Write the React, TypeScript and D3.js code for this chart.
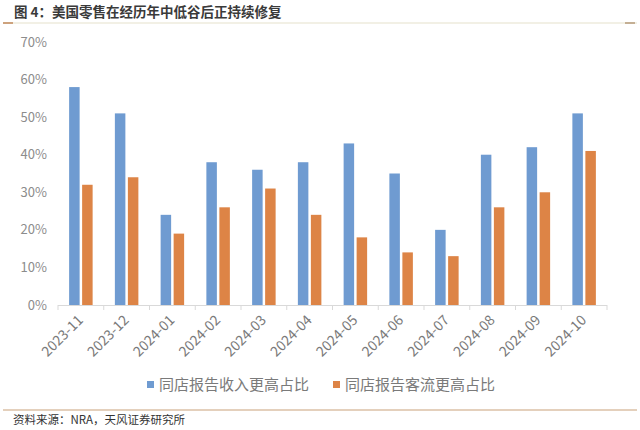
import React from "react";
import * as d3 from "d3";

const categories = ["2023-11","2023-12","2024-01","2024-02","2024-03","2024-04","2024-05","2024-06","2024-07","2024-08","2024-09","2024-10"];
const revenueShare = [58, 51, 24, 38, 36, 38, 43, 35, 20, 40, 42, 51];
const trafficShare = [32, 34, 19, 26, 31, 24, 18, 14, 13, 26, 30, 41];
const seriesNames = ["同店报告收入更高占比", "同店报告客流更高占比"];
const yTicks = [0, 10, 20, 30, 40, 50, 60, 70];
const title = "图 4：美国零售在经历年中低谷后正持续修复";
const source = "资料来源：NRA，天风证券研究所";

const W = 640, H = 430;
const left = 58, right = 607, top = 42, bottom = 305;
const colors = ["#6f9bd1", "#dd8446"];
const font = "'Noto Sans CJK SC', 'Liberation Sans', sans-serif";

export default function App() {
  const x = d3.scaleBand().domain(categories).range([left, right]).padding(0);
  const y = d3.scaleLinear().domain([0, 70]).range([bottom, top]);
  const bw = x.bandwidth();
  const barW = 10.5, gap = 2.5;
  const series = [revenueShare, trafficShare];
  return (
    <svg width={W} height={H} style={{ position: "absolute", left: 0, top: 0, background: "#fff" }} fontFamily={font}>
      <text x={14} y={17} fontSize={13.5} fontWeight={700} fill="#3a3a3a">{title}</text>
      <line x1={3} x2={637} y1={23} y2={23} stroke="#e6e2cc" strokeWidth={1.2} />
      <line x1={3} x2={13} y1={23} y2={23} stroke="#c0895a" strokeWidth={1.5} />
      <line x1={625} x2={635} y1={23} y2={23} stroke="#b59a78" strokeWidth={1.5} />
      {yTicks.map(t => (
        <text key={t} x={47} y={y(t)} dy="0.35em" textAnchor="end" fontSize={13} fill="#8c8c8c">{t}%</text>
      ))}
      {categories.map((c, i) => {
        const cx = (x(c) as number) + bw / 2;
        return (
          <g key={c}>
            {series.map((s, k) => {
              const x0 = cx - barW - gap / 2 + k * (barW + gap);
              return <rect key={k} x={x0} y={y(s[i])} width={barW} height={bottom - y(s[i])} fill={colors[k]} />;
            })}
            <text transform={`translate(${cx + 3},${321}) rotate(-45)`} textAnchor="end" fontSize={14} fill="#7a7a7a">{c}</text>
          </g>
        );
      })}
      <line x1={left} x2={right} y1={bottom + 0.5} y2={bottom + 0.5} stroke="#d9d9d9" />
      {d3.range(categories.length + 1).map(i => {
        const tx = left + i * bw;
        return <line key={i} x1={tx} x2={tx} y1={bottom} y2={bottom + 5} stroke="#d9d9d9" />;
      })}
      {seriesNames.map((n, k) => {
        const lx = [147, 333][k];
        return (
          <g key={n}>
            <rect x={lx} y={381} width={7} height={7} fill={colors[k]} />
            <text x={lx + 12} y={385} dy="0.35em" fontSize={15} fill="#7a7a7a">{n}</text>
          </g>
        );
      })}
      <line x1={3} x2={637} y1={410} y2={410} stroke="#c9a27a" strokeWidth={1.2} />
      <text x={13} y={424} fontSize={11.5} fill="#333">{source}</text>
    </svg>
  );
}
